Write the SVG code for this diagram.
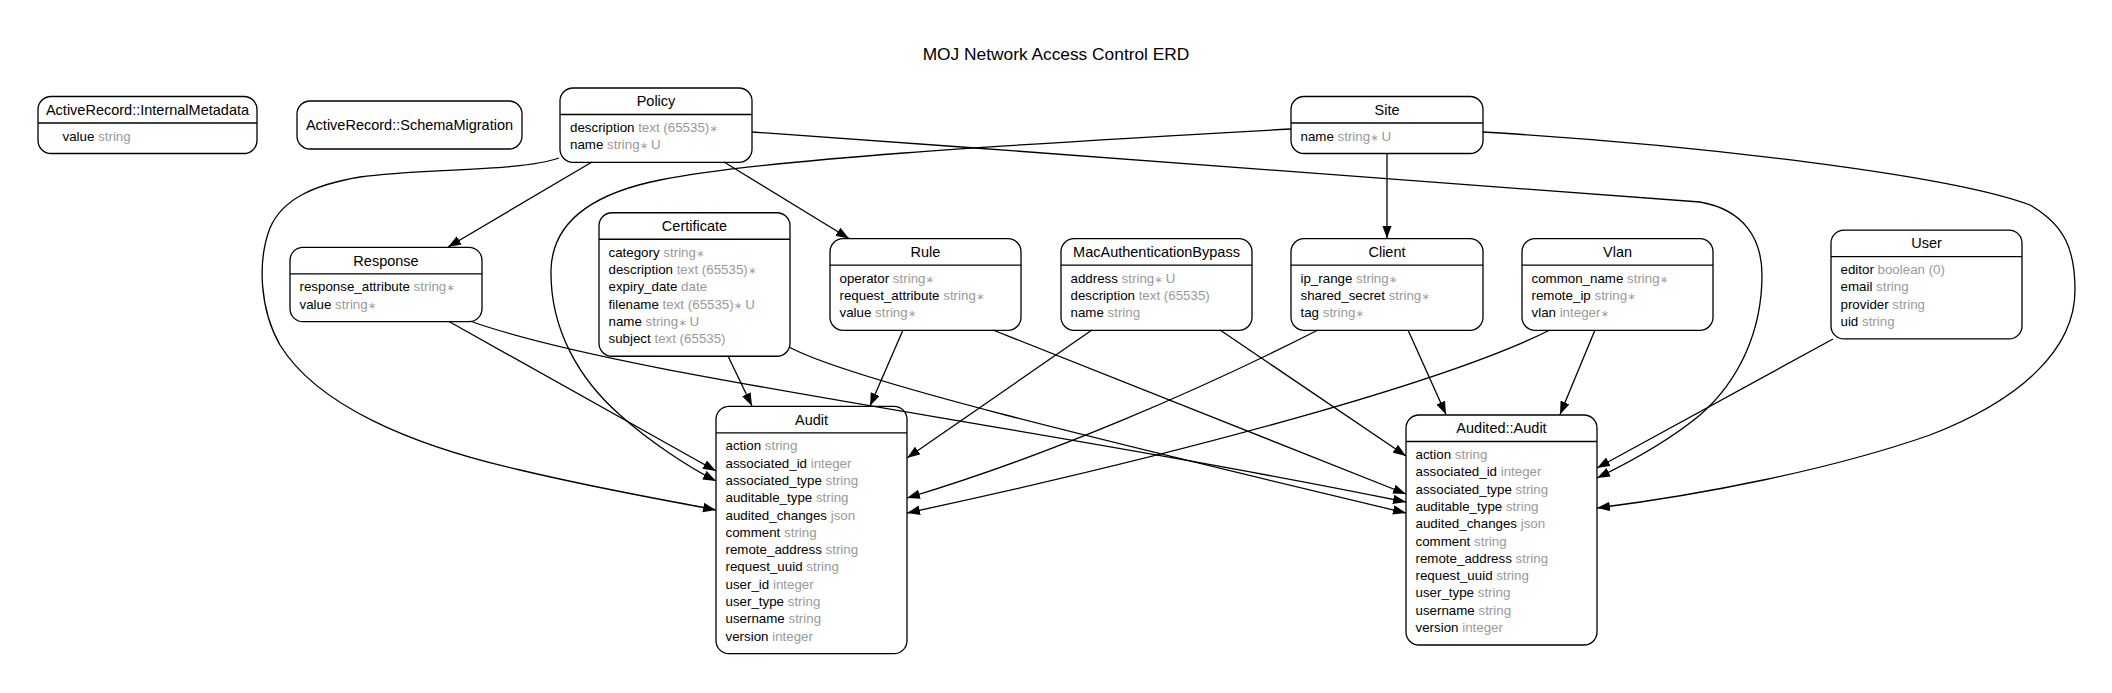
<svg xmlns="http://www.w3.org/2000/svg" width="2112" height="693" viewBox="0 0 2112 693">
<style>
text{font-family:"Liberation Sans",Arial,"DejaVu Sans",sans-serif;fill:#000}
.box{fill:#fff;stroke:#000;stroke-width:1.3}
.hd{stroke:#000;stroke-width:1.3}
.ttl{font-size:14.5px;text-anchor:middle}
.at{font-size:13.33px}
.ty{fill:#999}
.gt{font-size:17.33px;text-anchor:middle}
.edge{fill:none;stroke:#000;stroke-width:1.3}
</style>
<defs>
<marker id="arr" markerUnits="userSpaceOnUse" markerWidth="14" markerHeight="10" refX="13" refY="4.75" orient="auto">
<path d="M0,0 L13,4.75 L0,9.5 z" fill="#000"/>
</marker>
</defs>
<rect x="0" y="0" width="2112" height="693" fill="#fff"/>
<text class="gt" x="1056" y="60">MOJ Network Access Control ERD</text>

<g id="internal-metadata">
<rect class="box" x="38" y="96.5" width="219" height="57" rx="13"/>
<line class="hd" x1="38" y1="123" x2="257" y2="123"/>
<text class="ttl" x="147.5" y="114.75">ActiveRecord::InternalMetadata</text>
<text class="at" x="62.5" y="140.5">value<tspan class="ty"> string</tspan></text>
</g>

<g id="schema-migration">
<rect class="box" x="297" y="101" width="225" height="48" rx="13"/>
<text class="ttl" x="409.5" y="130">ActiveRecord::SchemaMigration</text>
</g>

<g id="policy">
<rect class="box" x="560" y="88" width="192" height="74.3" rx="13"/>
<line class="hd" x1="560" y1="114.5" x2="752" y2="114.5"/>
<text class="ttl" x="656" y="106.25">Policy</text>
<text class="at" x="570" y="132">description<tspan class="ty"> text (65535)&#x200A;⁎</tspan></text>
<text class="at" x="570" y="149.3">name<tspan class="ty"> string&#x200A;⁎ U</tspan></text>
</g>

<g id="site">
<rect class="box" x="1291" y="96.5" width="192" height="57" rx="13"/>
<line class="hd" x1="1291" y1="123" x2="1483" y2="123"/>
<text class="ttl" x="1387" y="114.75">Site</text>
<text class="at" x="1300.5" y="140.5">name<tspan class="ty"> string&#x200A;⁎ U</tspan></text>
</g>

<g id="response">
<rect class="box" x="290" y="247.35" width="192" height="74.3" rx="13"/>
<line class="hd" x1="290" y1="273.85" x2="482" y2="273.85"/>
<text class="ttl" x="386" y="265.6">Response</text>
<text class="at" x="299.5" y="291.35">response_attribute<tspan class="ty"> string&#x200A;⁎</tspan></text>
<text class="at" x="299.5" y="308.65">value<tspan class="ty"> string&#x200A;⁎</tspan></text>
</g>

<g id="certificate">
<rect class="box" x="599" y="212.75" width="191" height="143.5" rx="13"/>
<line class="hd" x1="599" y1="239.25" x2="790" y2="239.25"/>
<text class="ttl" x="694.5" y="231">Certificate</text>
<text class="at" x="608.5" y="256.75">category<tspan class="ty"> string&#x200A;⁎</tspan></text>
<text class="at" x="608.5" y="274.05">description<tspan class="ty"> text (65535)&#x200A;⁎</tspan></text>
<text class="at" x="608.5" y="291.35">expiry_date<tspan class="ty"> date</tspan></text>
<text class="at" x="608.5" y="308.65">filename<tspan class="ty"> text (65535)&#x200A;⁎ U</tspan></text>
<text class="at" x="608.5" y="325.95">name<tspan class="ty"> string&#x200A;⁎ U</tspan></text>
<text class="at" x="608.5" y="343.25">subject<tspan class="ty"> text (65535)</tspan></text>
</g>

<g id="rule">
<rect class="box" x="830" y="238.7" width="191" height="91.6" rx="13"/>
<line class="hd" x1="830" y1="265.2" x2="1021" y2="265.2"/>
<text class="ttl" x="925.5" y="256.95">Rule</text>
<text class="at" x="839.5" y="282.7">operator<tspan class="ty"> string&#x200A;⁎</tspan></text>
<text class="at" x="839.5" y="300">request_attribute<tspan class="ty"> string&#x200A;⁎</tspan></text>
<text class="at" x="839.5" y="317.3">value<tspan class="ty"> string&#x200A;⁎</tspan></text>
</g>

<g id="mac-authentication-bypass">
<rect class="box" x="1061" y="238.7" width="191" height="91.6" rx="13"/>
<line class="hd" x1="1061" y1="265.2" x2="1252" y2="265.2"/>
<text class="ttl" x="1156.5" y="256.95">MacAuthenticationBypass</text>
<text class="at" x="1070.5" y="282.7">address<tspan class="ty"> string&#x200A;⁎ U</tspan></text>
<text class="at" x="1070.5" y="300">description<tspan class="ty"> text (65535)</tspan></text>
<text class="at" x="1070.5" y="317.3">name<tspan class="ty"> string</tspan></text>
</g>

<g id="client">
<rect class="box" x="1291" y="238.7" width="192" height="91.6" rx="13"/>
<line class="hd" x1="1291" y1="265.2" x2="1483" y2="265.2"/>
<text class="ttl" x="1387" y="256.95">Client</text>
<text class="at" x="1300.5" y="282.7">ip_range<tspan class="ty"> string&#x200A;⁎</tspan></text>
<text class="at" x="1300.5" y="300">shared_secret<tspan class="ty"> string&#x200A;⁎</tspan></text>
<text class="at" x="1300.5" y="317.3">tag<tspan class="ty"> string&#x200A;⁎</tspan></text>
</g>

<g id="vlan">
<rect class="box" x="1522" y="238.7" width="191" height="91.6" rx="13"/>
<line class="hd" x1="1522" y1="265.2" x2="1713" y2="265.2"/>
<text class="ttl" x="1617.5" y="256.95">Vlan</text>
<text class="at" x="1531.5" y="282.7">common_name<tspan class="ty"> string&#x200A;⁎</tspan></text>
<text class="at" x="1531.5" y="300">remote_ip<tspan class="ty"> string&#x200A;⁎</tspan></text>
<text class="at" x="1531.5" y="317.3">vlan<tspan class="ty"> integer&#x200A;⁎</tspan></text>
</g>

<g id="user">
<rect class="box" x="1831" y="230.05" width="191" height="108.9" rx="13"/>
<line class="hd" x1="1831" y1="256.55" x2="2022" y2="256.55"/>
<text class="ttl" x="1926.5" y="248.3">User</text>
<text class="at" x="1840.5" y="274.05">editor<tspan class="ty"> boolean (0)</tspan></text>
<text class="at" x="1840.5" y="291.35">email<tspan class="ty"> string</tspan></text>
<text class="at" x="1840.5" y="308.65">provider<tspan class="ty"> string</tspan></text>
<text class="at" x="1840.5" y="325.95">uid<tspan class="ty"> string</tspan></text>
</g>

<g id="audit">
<rect class="box" x="716" y="406.35" width="191" height="247.3" rx="13"/>
<line class="hd" x1="716" y1="432.85" x2="907" y2="432.85"/>
<text class="ttl" x="811.5" y="424.6">Audit</text>
<text class="at" x="725.5" y="450.35">action<tspan class="ty"> string</tspan></text>
<text class="at" x="725.5" y="467.65">associated_id<tspan class="ty"> integer</tspan></text>
<text class="at" x="725.5" y="484.95">associated_type<tspan class="ty"> string</tspan></text>
<text class="at" x="725.5" y="502.25">auditable_type<tspan class="ty"> string</tspan></text>
<text class="at" x="725.5" y="519.55">audited_changes<tspan class="ty"> json</tspan></text>
<text class="at" x="725.5" y="536.85">comment<tspan class="ty"> string</tspan></text>
<text class="at" x="725.5" y="554.15">remote_address<tspan class="ty"> string</tspan></text>
<text class="at" x="725.5" y="571.45">request_uuid<tspan class="ty"> string</tspan></text>
<text class="at" x="725.5" y="588.75">user_id<tspan class="ty"> integer</tspan></text>
<text class="at" x="725.5" y="606.05">user_type<tspan class="ty"> string</tspan></text>
<text class="at" x="725.5" y="623.35">username<tspan class="ty"> string</tspan></text>
<text class="at" x="725.5" y="640.65">version<tspan class="ty"> integer</tspan></text>
</g>

<g id="audited-audit">
<rect class="box" x="1406" y="415" width="191" height="230" rx="13"/>
<line class="hd" x1="1406" y1="441.5" x2="1597" y2="441.5"/>
<text class="ttl" x="1501.5" y="433.25">Audited::Audit</text>
<text class="at" x="1415.5" y="459">action<tspan class="ty"> string</tspan></text>
<text class="at" x="1415.5" y="476.3">associated_id<tspan class="ty"> integer</tspan></text>
<text class="at" x="1415.5" y="493.6">associated_type<tspan class="ty"> string</tspan></text>
<text class="at" x="1415.5" y="510.9">auditable_type<tspan class="ty"> string</tspan></text>
<text class="at" x="1415.5" y="528.2">audited_changes<tspan class="ty"> json</tspan></text>
<text class="at" x="1415.5" y="545.5">comment<tspan class="ty"> string</tspan></text>
<text class="at" x="1415.5" y="562.8">remote_address<tspan class="ty"> string</tspan></text>
<text class="at" x="1415.5" y="580.1">request_uuid<tspan class="ty"> string</tspan></text>
<text class="at" x="1415.5" y="597.4">user_type<tspan class="ty"> string</tspan></text>
<text class="at" x="1415.5" y="614.7">username<tspan class="ty"> string</tspan></text>
<text class="at" x="1415.5" y="632">version<tspan class="ty"> integer</tspan></text>
</g>

<g id="connectors">
<path class="edge" marker-end="url(#arr)" d="M592,162 L448,247"/>
<path class="edge" marker-end="url(#arr)" d="M724,162 L849,238.5"/>
<path class="edge" marker-end="url(#arr)" d="M559,158 C520,172 420,168 360,177 C312,185 282,200 270,228 C257,262 260,310 280,345 C317,405 410,445 520,470 C600,489 660,499 716,510"/>
<path class="edge" marker-end="url(#arr)" d="M752,132 C1100,157 1500,185 1700,202 C1745,210 1762,240 1762,275 C1762,330 1740,380 1700,415 C1670,440 1630,462 1597,478"/>
<path class="edge" marker-end="url(#arr)" d="M1387,153.5 L1387,238.5"/>
<path class="edge" marker-end="url(#arr)" d="M1291,129 C1000,145 760,160 660,180 C580,196 552,230 551,270 C550,330 580,380 620,415 C650,442 690,468 716,481"/>
<path class="edge" marker-end="url(#arr)" d="M1483,132 C1700,145 1950,175 2030,205 C2065,225 2075,250 2075,290 C2075,350 2020,400 1930,435 C1830,470 1700,495 1597,508"/>
<path class="edge" marker-end="url(#arr)" d="M449,321.5 L716,471"/>
<path class="edge" marker-end="url(#arr)" d="M470,321 C620,375 1000,420 1406,502"/>
<path class="edge" marker-end="url(#arr)" d="M728,356 L752,406"/>
<path class="edge" marker-end="url(#arr)" d="M789,347 C850,380 1100,440 1406,513"/>
<path class="edge" marker-end="url(#arr)" d="M903,330 L870,406"/>
<path class="edge" marker-end="url(#arr)" d="M993,330 L1406,494"/>
<path class="edge" marker-end="url(#arr)" d="M1092,330 L907,458"/>
<path class="edge" marker-end="url(#arr)" d="M1220,330 L1406,456"/>
<path class="edge" marker-end="url(#arr)" d="M1318,330 C1200,390 1050,455 907,498"/>
<path class="edge" marker-end="url(#arr)" d="M1408,330 L1446,414.5"/>
<path class="edge" marker-end="url(#arr)" d="M1550,330 C1450,380 1200,450 907,513"/>
<path class="edge" marker-end="url(#arr)" d="M1595,330 L1560,414.5"/>
<path class="edge" marker-end="url(#arr)" d="M1833,339 L1597,468"/>
</g>
</svg>
